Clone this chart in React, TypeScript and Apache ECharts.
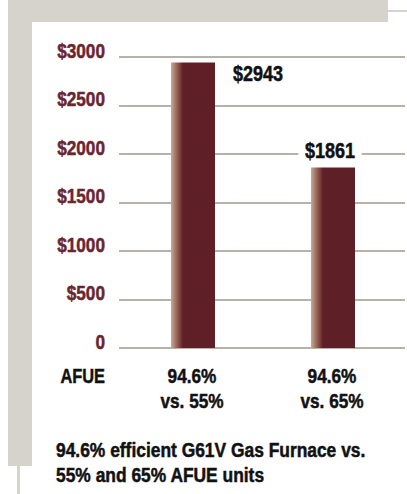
import React, { useEffect, useRef } from "react";
import * as echarts from "echarts";

const categories = ["94.6%\nvs. 55%", "94.6%\nvs. 65%"];
const savings = [2943, 1861];
const valueLabels = ["$2943", "$1861"];
const yTicks = [0, 500, 1000, 1500, 2000, 2500, 3000];
const axisTitle = "AFUE";
const caption = "94.6% efficient G61V Gas Furnace vs.\n55% and 65% AFUE units";

const FONT = '"Liberation Sans", Arial, sans-serif';
const MAROON = "#6a2630";
const FRAME = "#d6d3cc";
const SQUEEZE = 0.82;

export default function App() {
  const ref = useRef<HTMLDivElement>(null);
  useEffect(() => {
    document.body.style.margin = "0";
    const chart = echarts.init(ref.current!, null, { renderer: "svg" });
    const barColor = new echarts.graphic.LinearGradient(0, 0, 1, 0, [
      { offset: 0, color: "#c9ab95" },
      { offset: 0.12, color: "#9a6b5a" },
      { offset: 0.25, color: "#6a2a2e" },
      { offset: 0.27, color: "#5f1f27" },
      { offset: 1, color: "#5f1f27" },
    ]);
    chart.setOption({
      animation: false,
      backgroundColor: "#ffffff",
      grid: [
        { left: 119, right: 2, top: 57, bottom: 146 },
        { left: 123, right: 4, top: 57, bottom: 146 },
      ],
      xAxis: [
        { type: "category", gridIndex: 0, data: categories, show: false },
        { type: "category", gridIndex: 1, data: categories, show: false },
      ],
      yAxis: [
        {
          type: "value",
          gridIndex: 0,
          min: 0,
          max: 3000,
          interval: 500,
          axisLine: { show: false },
          axisTick: { show: false },
          axisLabel: { show: false },
          splitLine: { lineStyle: { color: "#b8b1a7", width: 2 } },
        },
        {
          type: "value",
          gridIndex: 1,
          min: 0,
          max: 3000,
          interval: 500,
          show: false,
          splitLine: { show: false },
        },
      ],
      series: [
        {
          type: "bar",
          xAxisIndex: 1,
          yAxisIndex: 1,
          barWidth: 44,
          itemStyle: { color: barColor },
          data: savings,
        },
      ],
    });

    const txt = (
      text: string,
      x: number,
      y: number,
      size: number,
      fill: string,
      align: string,
      vAlign: string,
      extra: any = {},
      scale = SQUEEZE
    ) => ({
      type: "text",
      x,
      y,
      scaleX: scale,
      z: 10,
      style: {
        text,
        fill,
        stroke: fill,
        lineWidth: 0.5,
        font: `bold ${size}px ${FONT}`,
        lineHeight: extra.lineHeight || size,
        align,
        verticalAlign: vAlign,
        ...extra,
      },
    });

    const g: any[] = [
      { type: "rect", shape: { x: 8, y: 0, width: 380, height: 22 }, style: { fill: FRAME }, silent: true },
      { type: "rect", shape: { x: 8, y: 0, width: 24, height: 466 }, style: { fill: FRAME }, silent: true },
      { type: "rect", shape: { x: 17, y: 466, width: 3, height: 28 }, style: { fill: FRAME }, silent: true },
      { type: "rect", shape: { x: 388, y: 10, width: 19, height: 2 }, style: { fill: FRAME }, silent: true },
    ];

    // y-axis tick labels, placed through the value axis scale
    yTicks.forEach((v) => {
      const py = chart.convertToPixel({ yAxisIndex: 0 }, v) as number;
      g.push(txt(v === 0 ? "0" : "$" + v, 105, py - 6.3, 21, MAROON, "right", "middle"));
    });

    // category labels
    categories.forEach((c, i) => {
      const px = chart.convertToPixel({ xAxisIndex: 1 }, i) as number;
      g.push(txt(c, px - 1, 363, 21, "#111111", "center", "top", { lineHeight: 25 }));
    });

    // value labels
    savings.forEach((v, i) => {
      const [px, py] = chart.convertToPixel({ xAxisIndex: 1, yAxisIndex: 1 }, [i, v]) as number[];
      if (i === 0) {
        g.push(txt(valueLabels[i], px + 40, py + 11, 22, "#111111", "left", "middle"));
      } else {
        g.push(
          txt(valueLabels[i], px - 3, py - 17.5, 22, "#111111", "center", "middle", {
            backgroundColor: "#ffffff",
            padding: [2, 8, 2, 8],
          })
        );
      }
    });

    g.push(txt(axisTitle, 105, 363, 21, "#111111", "right", "top", { lineHeight: 25 }, 0.78));
    g.push(txt(caption, 56, 437.6, 20, "#111111", "left", "top", { lineHeight: 25 }, 0.87));

    chart.setOption({ graphic: g });
    return () => chart.dispose();
  }, []);
  return <div ref={ref} style={{ position: "absolute", left: 0, top: 0, width: 407, height: 494 }} />;
}
